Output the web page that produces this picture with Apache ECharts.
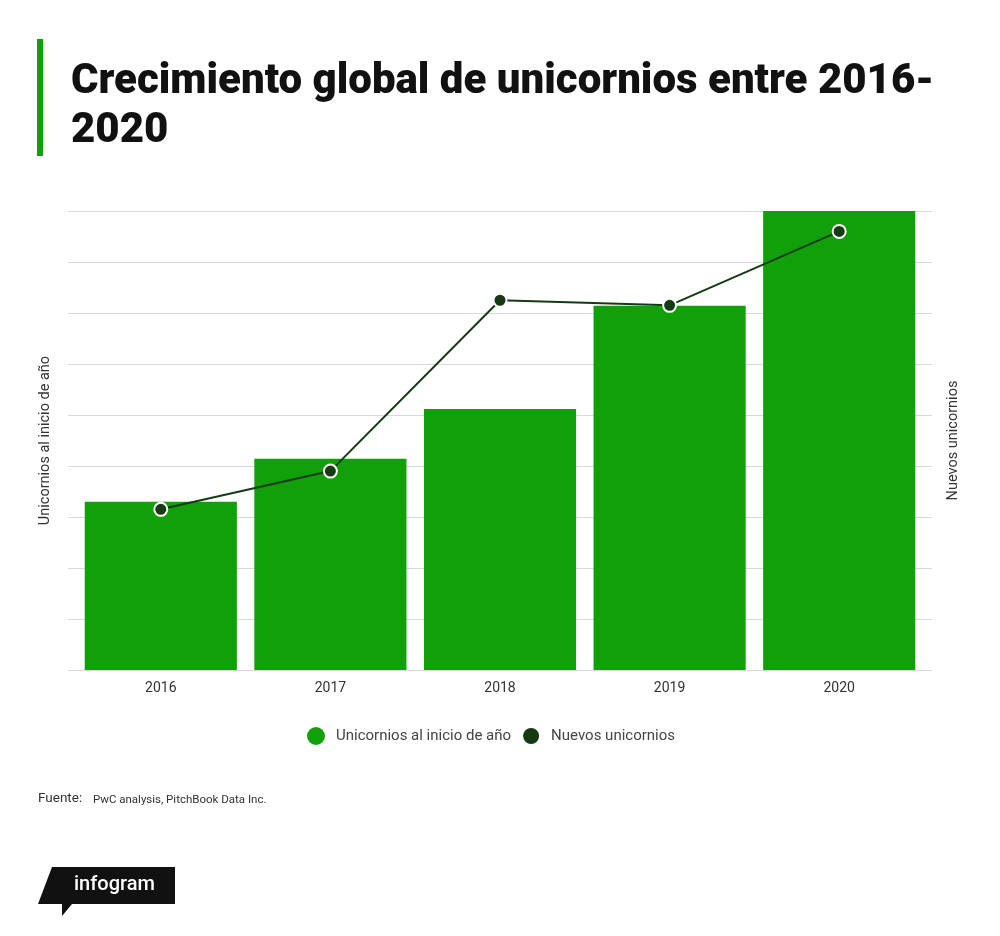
<!DOCTYPE html>
<html><head><meta charset="utf-8">
<script src="https://cdn.jsdelivr.net/npm/echarts@6/dist/echarts.min.js"></script>
<style>html,body{margin:0;padding:0;background:#fff}#c{width:1000px;height:936px}</style>
</head><body><div id="c"></div>
<script>
const categories = ['2016', '2017', '2018', '2019', '2020'];
const unicorniosInicio = [165, 207, 256, 357, 450];
const nuevosUnicornios = [63, 78, 145, 143, 172];
const leftTicks = {min: 0, max: 450, interval: 50};
const rightTicks = {min: 0, max: 180, interval: 20};

const font = 'Roboto, sans-serif';
const chart = echarts.init(document.getElementById('c'));
chart.setOption({
  backgroundColor: '#fff',
  animation: false,
  title: {
    text: 'Crecimiento global de unicornios entre 2016-\n2020',
    left: 66, top: 53,
    textStyle: {fontFamily: font, fontWeight: 900, fontSize: 42, lineHeight: 49, color: '#111'}
  },
  grid: [
    {left: 68, right: 68, top: 211, bottom: 266},
    {left: 76, right: 76, top: 211, bottom: 266}
  ],
  legend: {
    left: 302, top: 721, icon: 'circle', itemWidth: 18, itemHeight: 18, itemGap: 10,
    textStyle: {fontFamily: font, fontSize: 15, color: '#444', padding: [0, 0, 0, 6]},
    data: ['Unicornios al inicio de año', 'Nuevos unicornios']
  },
  xAxis: [{
    gridIndex: 0, type: 'category', data: categories, show: false
  }, {
    gridIndex: 1, type: 'category', data: categories,
    axisLine: {show: false}, axisTick: {show: false},
    axisLabel: {fontFamily: font, fontSize: 14, color: '#333', margin: 11}
  }],
  yAxis: [{
    gridIndex: 0, type: 'value', min: leftTicks.min, max: leftTicks.max, interval: leftTicks.interval,
    name: 'Unicornios al inicio de año', nameLocation: 'middle', nameGap: 15, nameRotate: 90,
    nameTextStyle: {fontFamily: font, fontSize: 14.5, color: '#333'},
    axisLabel: {show: false}, axisLine: {show: false}, axisTick: {show: false},
    splitLine: {lineStyle: {color: '#d9d9d9'}}
  }, {
    gridIndex: 0, type: 'value', position: 'right', min: rightTicks.min, max: rightTicks.max, interval: rightTicks.interval,
    name: 'Nuevos unicornios', nameLocation: 'middle', nameGap: 14, nameRotate: 90,
    nameTextStyle: {fontFamily: font, fontSize: 14.5, color: '#333'},
    axisLabel: {show: false}, axisLine: {show: false}, axisTick: {show: false},
    splitLine: {show: false}
  }, {
    gridIndex: 1, type: 'value', min: leftTicks.min, max: leftTicks.max, interval: leftTicks.interval,
    show: false, splitLine: {show: false}
  }, {
    gridIndex: 1, type: 'value', position: 'right', min: rightTicks.min, max: rightTicks.max, interval: rightTicks.interval,
    show: false, splitLine: {show: false}
  }],
  series: [{
    name: 'Unicornios al inicio de año', type: 'bar', data: unicorniosInicio,
    xAxisIndex: 1, yAxisIndex: 2,
    barCategoryGap: '10.3%', itemStyle: {color: '#12a00a'}
  }, {
    name: 'Nuevos unicornios', type: 'line', data: nuevosUnicornios,
    xAxisIndex: 1, yAxisIndex: 3,
    symbol: 'circle', symbolSize: 13,
    lineStyle: {color: '#163a14', width: 2},
    itemStyle: {color: '#163a14', borderColor: '#fff', borderWidth: 2}
  }],
  graphic: [
    {type: 'rect', left: 37, top: 39, shape: {width: 6, height: 117}, style: {fill: '#12a00a'}},
    {type: 'text', left: 38, top: 792, style: {text: 'Fuente:', font: '13.5px Roboto, sans-serif', fill: '#333'}},
    {type: 'text', left: 93, top: 794, style: {text: 'PwC analysis, PitchBook Data Inc.', font: '11.5px Roboto, sans-serif', fill: '#333'}},
    {type: 'polygon', shape: {points: [[52, 867], [175, 867], [175, 904], [72, 904], [62, 916], [62, 904], [38, 904]]}, style: {fill: '#111'}},
    {type: 'text', left: 74, top: 875, style: {text: 'infogram', font: '500 20px Roboto, sans-serif', fill: '#fff'}}
  ]
});
</script></body></html>
